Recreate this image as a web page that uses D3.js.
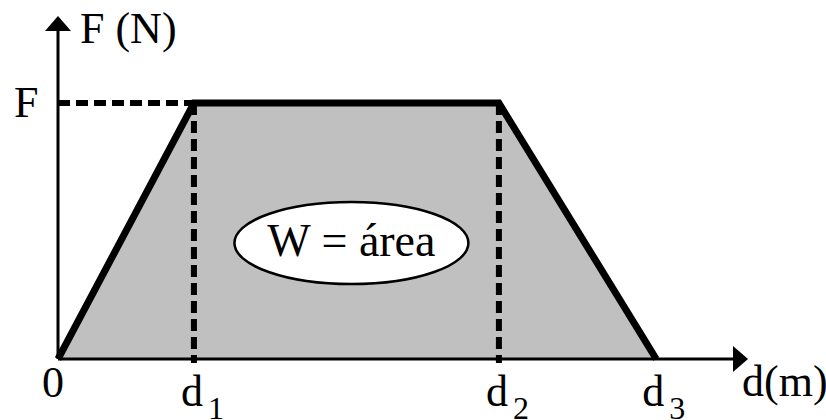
<!DOCTYPE html>
<html lang="en">
  <head>
    <meta charset="UTF-8" />
    <title>trabalho-forca</title>
    <style>
      body { margin: 0; background: #fff; }
      text { font-family: "Liberation Serif", "Times New Roman", serif; fill: #000; }
    </style>
  </head>
  <body>
    <svg width="826" height="420" id="svg"></svg>
    <script src="https://cdnjs.cloudflare.com/ajax/libs/d3/7.8.5/d3.min.js"></script>
    <script>
      // posições no eixo d (unidades arbitrárias) e valor da força
      const dNames = ["0", "d", "d", "d"];
      const dSubs = ["", "1", "2", "3"];
      const dValues = [0, 1.97, 6.39, 8.67];
      const forceValues = [0, 1, 1, 0]; // F em 0, d1, d2, d3
      const forceLevel = 0.746;
      const axisLabels = ["F (N)", "d(m)"];
      const yTickLabel = "F";
      const areaLabel = "W = área";

      const svg = d3.select("#svg");
      const x = d3.scaleLinear().domain([0, 10]).range([58, 748]);
      const y = d3.scaleLinear().domain([0, 1]).range([359, 16]);

      const pts = dValues.map((d, i) => [x(d), y(forceValues[i] * forceLevel)]);

      // área sombreada
      svg.append("path")
        .attr("d", d3.line()(pts) + "Z")
        .attr("fill", "#c0c0c0");

      // linhas tracejadas
      const dash = svg.append("g")
        .attr("stroke", "#000")
        .attr("stroke-width", 6)
        .attr("stroke-dasharray", "12,6");
      dash.append("line")
        .attr("x1", x(0)).attr("x2", x(dValues[1]))
        .attr("y1", y(forceLevel)).attr("y2", y(forceLevel));
      [1, 2].forEach((i) => {
        dash.append("line")
          .attr("x1", x(dValues[i])).attr("x2", x(dValues[i]))
          .attr("y1", y(forceLevel)).attr("y2", y(0) + 4);
      });

      // eixos
      svg.append("line")
        .attr("x1", x(0)).attr("x2", x(10) - 10)
        .attr("y1", y(0)).attr("y2", y(0))
        .attr("stroke", "#000").attr("stroke-width", 3);
      svg.append("line")
        .attr("x1", x(0)).attr("x2", x(0))
        .attr("y1", y(0)).attr("y2", y(1) + 10)
        .attr("stroke", "#000").attr("stroke-width", 3);
      // setas
      svg.append("path")
        .attr("d", `M${x(10)},${y(0)} L${x(10) - 15},${y(0) - 13} L${x(10) - 15},${y(0) + 13} Z`)
        .attr("fill", "#000");
      svg.append("path")
        .attr("d", `M${x(0)},${y(1)} L${x(0) - 13},${y(1) + 15} L${x(0) + 13},${y(1) + 15} Z`)
        .attr("fill", "#000");

      // contorno do gráfico F x d
      svg.append("path")
        .attr("d", d3.line()(pts))
        .attr("fill", "none")
        .attr("stroke", "#000")
        .attr("stroke-width", 7)
        .attr("stroke-linejoin", "miter");

      // elipse com W = área
      const cx = x((dValues[1] + dValues[2]) / 2) + 5;
      svg.append("ellipse")
        .attr("cx", cx).attr("cy", 243)
        .attr("rx", 117).attr("ry", 41)
        .attr("fill", "#fff")
        .attr("stroke", "#000")
        .attr("stroke-width", 2.5);
      svg.append("text")
        .attr("x", cx).attr("y", 256)
        .attr("text-anchor", "middle")
        .attr("font-size", 46)
        .text(areaLabel);

      // rótulos dos eixos
      svg.append("text").attr("x", 80).attr("y", 43).attr("font-size", 44).text(axisLabels[0]);
      svg.append("text").attr("x", 742).attr("y", 396).attr("font-size", 44).text(axisLabels[1]);
      svg.append("text").attr("x", 14).attr("y", 117).attr("font-size", 44).text(yTickLabel);

      // rótulos d0..d3
      const offs = [-16, -13, -13, -14];
      dValues.forEach((d, i) => {
        const t = svg.append("text")
          .attr("x", x(d) + offs[i])
          .attr("y", i === 0 ? 397 : 406)
          .attr("font-size", 44);
        t.append("tspan").text(dNames[i]);
        if (dSubs[i]) {
          t.append("tspan")
            .attr("dx", 5)
            .attr("dy", 13)
            .attr("font-size", 32)
            .text(dSubs[i]);
        }
      });
    </script>
  </body>
</html>
